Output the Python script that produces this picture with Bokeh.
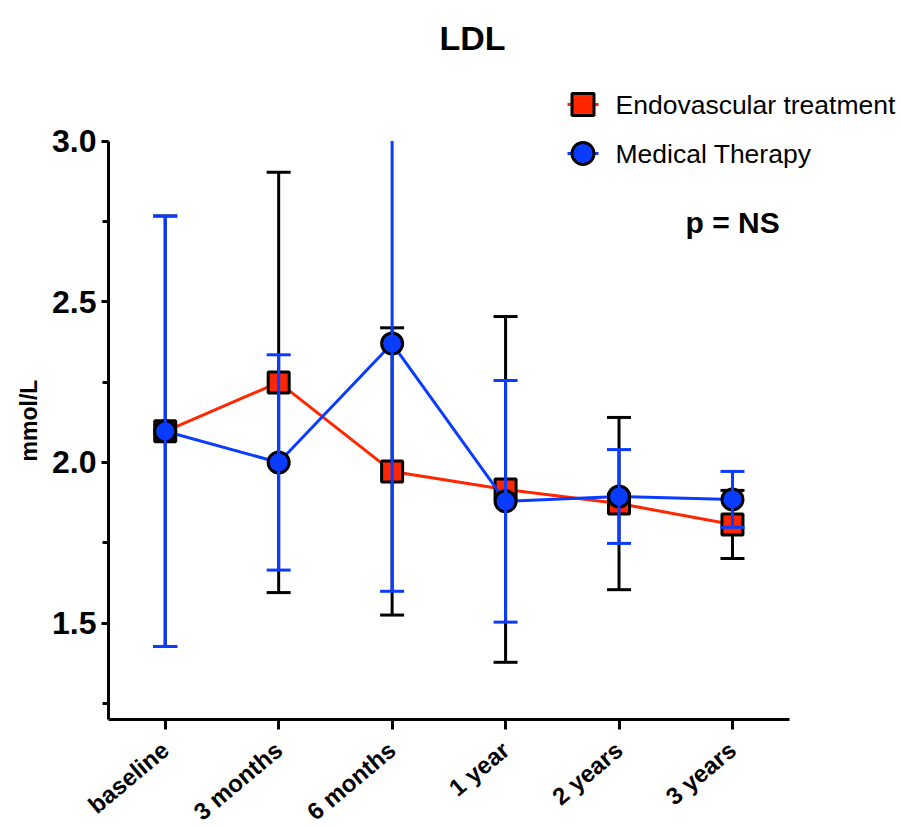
import numpy as np
from bokeh.plotting import figure
from bokeh.models import Range1d, FixedTicker, PrintfTickFormatter, Label, ColumnDataSource
from bokeh.embed import file_html
from bokeh.resources import INLINE

# ---------------- data ----------------
timepoints = ["baseline", "3 months", "6 months", "1 year", "2 years", "3 years"]
endo_mean = [2.097, 2.249, 1.972, 1.916, 1.872, 1.807]
endo_err = [0.670, 0.654, 0.447, 0.538, 0.268, 0.106]
med_mean = [2.097, 2.000, 2.370, 1.879, 1.894, 1.885]
med_err = [0.670, 0.335, 0.771, 0.376, 0.146, 0.087]
y_ticks = [1.5, 2.0, 2.5, 3.0]
y_minor_ticks = [1.25, 1.75, 2.25, 2.75]
y_axis_min, y_axis_max = 1.2, 3.0

# ---------------- layout constants ----------------
W, H = 899, 825
AXIS_X_PAGE = 108        # page x of the y axis line
AXIS_Y_PAGE = 719        # page y of the x axis line
PX_X = 113.45            # px per category
PX_Y = 321.33            # px per mmol/L

RED = "#FF2600"
BLUE = "#0A3CFF"
FONT = "Liberation Sans"


def sx(page_x):
    return -0.5 + (page_x - AXIS_X_PAGE) / PX_X


def sy(page_y):
    return y_axis_min + (AXIS_Y_PAGE - page_y) / PX_Y


x = np.arange(len(timepoints), dtype=float)

p = figure(
    width=W, height=H,
    x_range=Range1d(sx(0), sx(W)),
    y_range=Range1d(sy(H), sy(0)),
    output_backend="svg", toolbar_location=None, title=None,
    min_border_left=0, min_border_right=0, min_border_top=0, min_border_bottom=0,
)
p.outline_line_color = None
p.background_fill_color = "white"
p.border_fill_color = "white"
p.xgrid.visible = False
p.ygrid.visible = False


def err_sources(mean, err):
    mean = np.asarray(mean)
    err = np.asarray(err)
    up = mean + err
    lo = mean - err
    up_clip = np.minimum(up, y_axis_max)
    seg = ColumnDataSource(dict(x=x, y0=lo, y1=up_clip))
    caps_x = list(x) + [xi for xi, u in zip(x, up) if u <= y_axis_max]
    caps_y = list(lo) + [u for u in up if u <= y_axis_max]
    cap = ColumnDataSource(dict(x=caps_x, y=caps_y))
    return seg, cap


# Endovascular
p.line(x, endo_mean, line_color=RED, line_width=3)
seg_e, cap_e = err_sources(endo_mean, endo_err)
p.segment(x0="x", y0="y0", x1="x", y1="y1", source=seg_e, line_color="black", line_width=3)
p.scatter(x="x", y="y", source=cap_e, marker="dash", size=24, line_color="black", line_width=3)
p.scatter(x, endo_mean, marker="square", size=21, fill_color=RED, line_color="black", line_width=3)

# Medical therapy
p.line(x, med_mean, line_color=BLUE, line_width=3)
p.scatter(x, med_mean, marker="circle", size=21, fill_color=BLUE, line_color="black", line_width=3)
seg_m, cap_m = err_sources(med_mean, med_err)
p.segment(x0="x", y0="y0", x1="x", y1="y1", source=seg_m, line_color=BLUE, line_width=3)
p.scatter(x="x", y="y", source=cap_m, marker="dash", size=24, line_color=BLUE, line_width=3)

# ---------------- axes ----------------
xa = p.xaxis[0]
xa.fixed_location = y_axis_min
xa.ticker = FixedTicker(ticks=list(x), minor_ticks=[])
xa.major_label_overrides = {i: t for i, t in enumerate(timepoints)}
xa.bounds = (-0.5, len(timepoints) - 0.5)
xa.axis_line_width = 3
xa.major_tick_line_width = 3
xa.major_tick_out = 10
xa.major_tick_in = 0
xa.minor_tick_line_color = None
xa.major_label_orientation = np.deg2rad(40)
xa.major_label_text_font = FONT
xa.major_label_text_font_style = "bold"
xa.major_label_text_font_size = "24px"
xa.major_label_text_color = "black"
xa.major_label_text_baseline = "top"
xa.major_label_standoff = 17

ya = p.yaxis[0]
ya.fixed_location = -0.5
ya.ticker = FixedTicker(ticks=y_ticks, minor_ticks=y_minor_ticks)
ya.formatter = PrintfTickFormatter(format="%.1f")
ya.bounds = (y_axis_min, y_axis_max)
ya.axis_line_width = 3
ya.major_tick_line_width = 3
ya.major_tick_out = 7
ya.major_tick_in = 0
ya.minor_tick_line_width = 3
ya.minor_tick_out = 6
ya.minor_tick_in = 0
ya.major_label_text_font = FONT
ya.major_label_text_font_style = "bold"
ya.major_label_text_font_size = "32px"
ya.major_label_text_color = "black"
ya.major_label_standoff = 5

# ---------------- annotations ----------------
p.add_layout(Label(x=sx(28), y=sy(420), text="mmol/L", angle=np.pi / 2, text_font=FONT,
                   text_font_style="bold", text_font_size="23px", text_color="black",
                   text_align="center", text_baseline="middle"))
p.add_layout(Label(x=sx(472), y=sy(37), text="LDL", text_font=FONT, text_font_style="bold",
                   text_font_size="34px", text_align="center", text_baseline="alphabetic",
                   text_color="black"))
p.add_layout(Label(x=sx(685), y=sy(222), text="p = NS", text_font=FONT, text_font_style="bold",
                   text_font_size="30px", text_align="left", text_baseline="alphabetic",
                   text_color="black"))

# manual legend
leg_rows = [(104, "Endovascular treatment", RED, "square"), (153, "Medical Therapy", BLUE, "circle")]
for py, txt, col, mk in leg_rows:
    p.segment(x0=[sx(567)], y0=[sy(py)], x1=[sx(598)], y1=[sy(py)], line_color=col, line_width=3)
    p.scatter([sx(582.5)], [sy(py)], marker=mk, size=22, fill_color=col, line_color="black", line_width=3)
    p.add_layout(Label(x=sx(615), y=sy(py), text=txt, text_font=FONT, text_font_size="26.5px",
                       text_align="left", text_baseline="middle", text_color="black"))

open("out.html", "w").write(file_html(p, INLINE))
